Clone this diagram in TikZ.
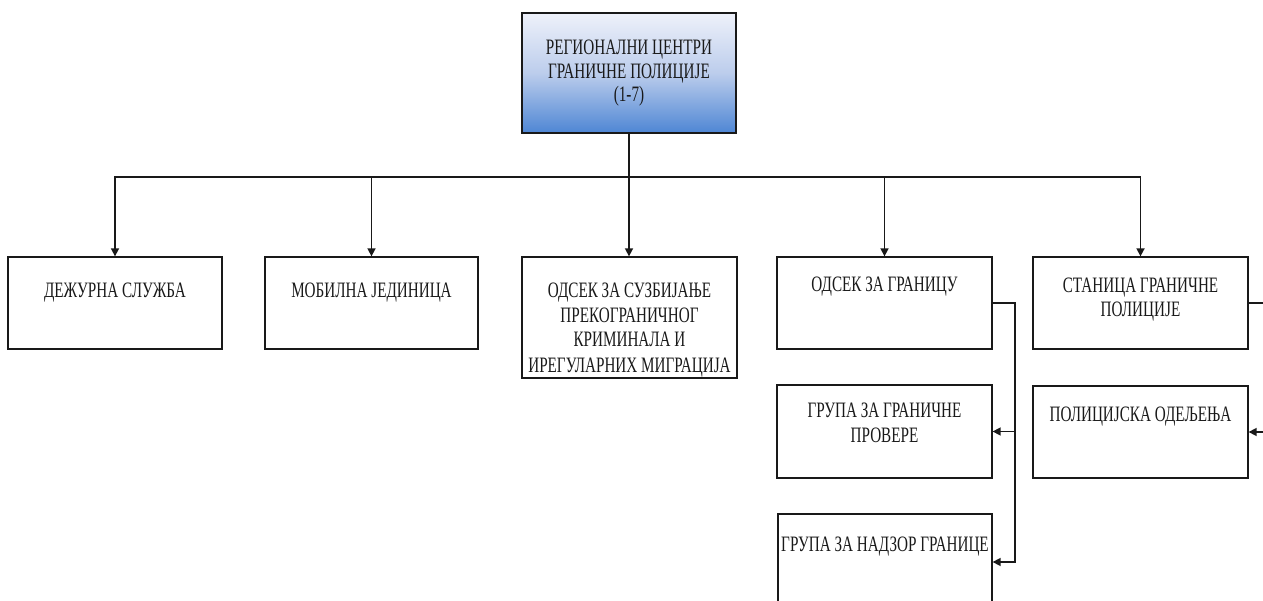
\documentclass[tikz,border=0pt]{standalone}
\usepackage{fontspec}
\setmainfont{Liberation Serif}[FakeStretch=0.69]
\usetikzlibrary{arrows.meta,calc}
\definecolor{gtop}{RGB}{238,241,250}
\definecolor{gmid}{RGB}{188,205,236}
\definecolor{gbot}{RGB}{78,134,212}
\definecolor{ink}{RGB}{25,25,25}
\tikzset{
  x=1pt,y=-1pt,
  box/.style={draw=ink,line width=1.3pt,inner sep=0pt,rectangle},
  topbox/.style={box,top color=gtop,bottom color=gbot,middle color=gmid},
  conn/.style={draw=ink,line width=1.6pt},
  arr/.style={conn,-{Triangle[length=8pt,width=8pt]}},
  txt/.style={anchor=base,inner sep=0pt,text=ink,font=\fontsize{22}{24.5}\selectfont}
}
\newcommand{\mybox}[6][box]{%
  \node[#1,minimum width={(#5-#3)*1pt},minimum height={(#6-#4)*1pt}] (#2) at ({(#3+#5)/2},{(#4+#6)/2}) {};}
\begin{document}
\begin{tikzpicture}
\useasboundingbox (0,0) rectangle (1263,601);
\clip (0,0) rectangle (1263,601);
% boxes
\mybox[topbox]{top}{522}{13}{736}{133}
\mybox{b1}{8}{257}{222}{349}
\mybox{b2}{265}{257}{478}{349}
\mybox{b3}{522}{257}{737}{378}
\mybox{b4}{777}{257}{992}{349}
\mybox{b5}{1033}{257}{1248}{349}
\mybox{b6}{777}{385}{992}{478}
\mybox{b7}{778}{514}{992}{610}
\mybox{b8}{1033}{386}{1248}{478}
% texts
\node[txt] (t0a) at (629,55) {РЕГИОНАЛНИ ЦЕНТРИ};
\node[txt] (t0b) at (629,79) {ГРАНИЧНЕ ПОЛИЦИЈЕ};
\node[txt] (t0c) at (629,102) {(1-7)};
\node[txt] (t1) at (115,298) {ДЕЖУРНА СЛУЖБА};
\node[txt] (t2) at (371.5,298) {МОБИЛНА ЈЕДИНИЦА};
\node[txt] (t3a) at (629.5,298) {ОДСЕК ЗА СУЗБИЈАЊЕ};
\node[txt] (t3b) at (629.5,323) {ПРЕКОГРАНИЧНОГ};
\node[txt] (t3c) at (629.5,347) {КРИМИНАЛА И};
\node[txt] (t3d) at (629.5,372) {ИРЕГУЛАРНИХ МИГРАЦИЈА};
\node[txt] (t4) at (884.5,292) {ОДСЕК ЗА ГРАНИЦУ};
\node[txt] (t5a) at (1140.5,293) {СТАНИЦА ГРАНИЧНЕ};
\node[txt] (t5b) at (1140.5,317) {ПОЛИЦИЈЕ};
\node[txt] (t6a) at (884.5,417) {ГРУПА ЗА ГРАНИЧНЕ};
\node[txt] (t6b) at (884.5,442) {ПРОВЕРЕ};
\node[txt] (t7) at (885,551) {ГРУПА ЗА НАДЗОР ГРАНИЦЕ};
\node[txt] (t8) at (1140.5,421) {ПОЛИЦИЈСКА ОДЕЉЕЊА};
% connectors
\coordinate (bus) at (0,177);
\coordinate (j4) at (1015,0);
\coordinate (j5) at (1290,0);
\draw[conn] (top.south) -- (top.south |- bus);
\foreach \b in {b1,b2,b4,b5}{
  \draw[arr] (top.south |- bus) -| (\b.north);
}
\draw[arr] (top.south) -- (top.south |- b3.north);
\draw[arr] (b4.east) -- (b4.east -| j4) |- (b6.east);
\draw[arr] (b4.east) -- (b4.east -| j4) |- (b7.east);
\draw[arr] (b5.east) -- (b5.east -| j5) |- (b8.east);
\end{tikzpicture}
\end{document}
